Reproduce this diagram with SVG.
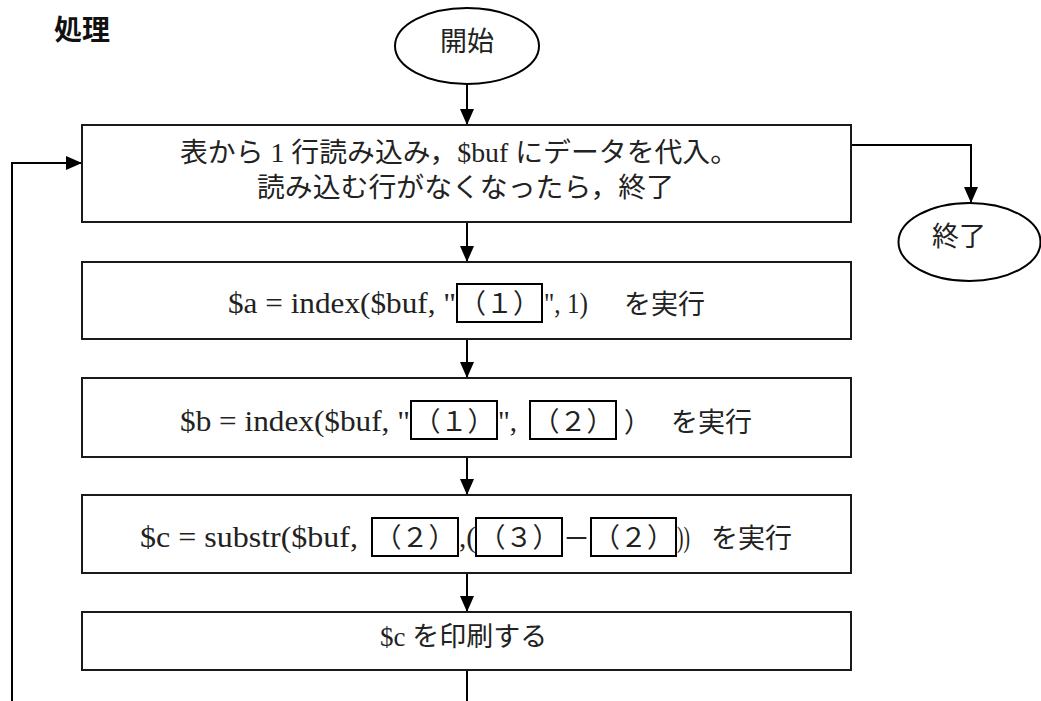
<svg xmlns="http://www.w3.org/2000/svg" width="1041" height="701" viewBox="0 0 1041 701">
<style>
.box{fill:#fff;stroke:#1a1a1a;stroke-width:2}
.ibox{fill:none;stroke:#000;stroke-width:2}
.term{fill:#fff;stroke:#000;stroke-width:2}
.ln{fill:none;stroke:#000;stroke-width:2}
.t{font-family:"Liberation Serif","Noto Sans CJK JP",serif;font-size:27px;fill:#222}
.lat{font-family:"Liberation Serif","Noto Sans CJK JP",serif;font-size:29px;fill:#222}
.c{text-anchor:middle}
.title{font-family:"Noto Sans CJK JP","Liberation Sans",sans-serif;font-size:28px;font-weight:bold;fill:#111}
</style>
<defs>
<marker id="arr" viewBox="0 0 16 14" refX="16" refY="7" markerWidth="16" markerHeight="14" orient="auto" markerUnits="userSpaceOnUse">
<path d="M0,0 L16,7 L0,14 z" fill="#000"/>
</marker>
</defs>
<rect width="1041" height="701" fill="#fff"/>
<text class="title" x="54" y="40">処理</text>
<g id="connectors">
<line class="ln" x1="467" y1="84" x2="467" y2="125" marker-end="url(#arr)"/>
<line class="ln" x1="467" y1="222" x2="467" y2="262" marker-end="url(#arr)"/>
<line class="ln" x1="467" y1="339" x2="467" y2="378" marker-end="url(#arr)"/>
<line class="ln" x1="467" y1="457" x2="467" y2="495" marker-end="url(#arr)"/>
<line class="ln" x1="467" y1="573" x2="467" y2="612" marker-end="url(#arr)"/>
<line class="ln" x1="467" y1="670" x2="467" y2="701"/>
<polyline class="ln" points="851,145 971,145 971,203" marker-end="url(#arr)"/>
<polyline class="ln" points="12,701 12,163 82,163" marker-end="url(#arr)"/>
</g>
<g id="start">
<ellipse class="term" cx="467" cy="46" rx="72" ry="38"/>
<text class="t c" x="467" y="51">開始</text>
</g>
<g id="end">
<ellipse class="term" cx="969.5" cy="242" rx="71" ry="39"/>
<text class="t c" x="959" y="246">終了</text>
</g>
<g id="read">
<rect class="box" x="82" y="125" width="769" height="97"/>
<text class="t" x="180" y="162" textLength="558" lengthAdjust="spacingAndGlyphs">表から 1 行読み込み，$buf にデータを代入。</text>
<text class="t" x="257" y="197" textLength="417" lengthAdjust="spacingAndGlyphs">読み込む行がなくなったら，終了</text>
</g>
<g id="step-a">
<rect class="box" x="82" y="262" width="769" height="77"/>
<text class="lat" x="228" y="313" textLength="228" lengthAdjust="spacingAndGlyphs">$a = index($buf, "</text>
<rect class="ibox" x="457" y="284" width="85" height="38"/>
<text class="t c" x="499.5" y="313">（１）</text>
<text class="lat" x="544" y="313" textLength="44" lengthAdjust="spacingAndGlyphs">", 1)</text>
<text class="t" x="624" y="314">を実行</text>
</g>
<g id="step-b">
<rect class="box" x="82" y="378" width="769" height="79"/>
<text class="lat" x="180" y="431" textLength="230" lengthAdjust="spacingAndGlyphs">$b = index($buf, "</text>
<rect class="ibox" x="411" y="401" width="86" height="38"/>
<text class="t c" x="454" y="431">（１）</text>
<text class="lat" x="498" y="431">",</text>
<rect class="ibox" x="530" y="401" width="86" height="38"/>
<text class="t c" x="573" y="431">（２）</text>
<text class="t" x="624" y="432">）</text>
<text class="t" x="671" y="432">を実行</text>
</g>
<g id="step-c">
<rect class="box" x="82" y="495" width="769" height="78"/>
<text class="lat" x="140" y="547" textLength="218" lengthAdjust="spacingAndGlyphs">$c = substr($buf,</text>
<rect class="ibox" x="372" y="518" width="86" height="38"/>
<text class="t c" x="415" y="547">（２）</text>
<text class="lat" x="459" y="547">,(</text>
<rect class="ibox" x="476" y="518" width="86" height="38"/>
<text class="t c" x="519" y="547">（３）</text>
<text class="t" x="563" y="548">－</text>
<rect class="ibox" x="591" y="518" width="85" height="38"/>
<text class="t c" x="633.5" y="547">（２）</text>
<text class="lat" x="677" y="547" textLength="13" lengthAdjust="spacingAndGlyphs">))</text>
<text class="t" x="711" y="548">を実行</text>
</g>
<g id="print">
<rect class="box" x="82" y="612" width="769" height="58"/>
<text class="t" x="380" y="646">$c を印刷する</text>
</g>
</svg>
